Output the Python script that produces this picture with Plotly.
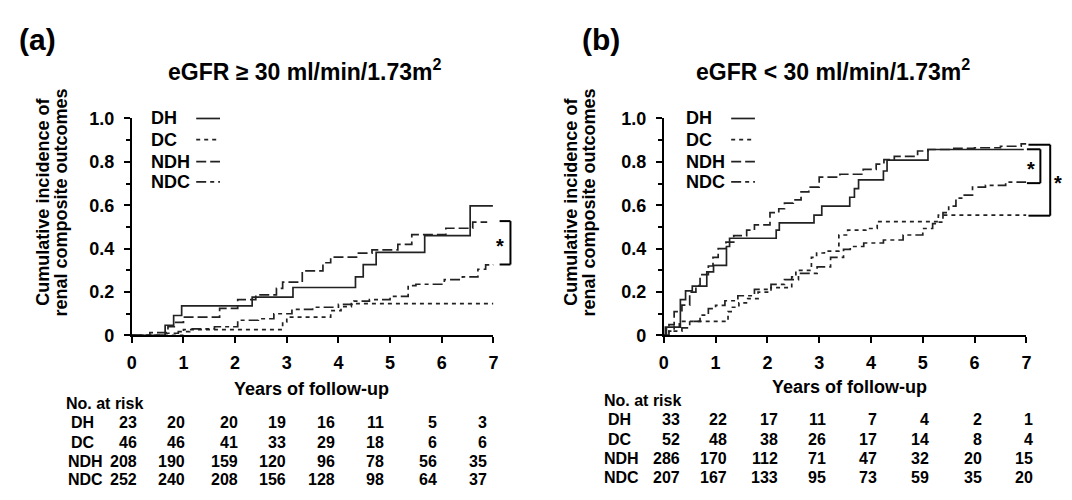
import plotly.graph_objects as go

# ---------------- data ----------------
years = [0, 1, 2, 3, 4, 5, 6, 7]
groups = ["DH", "DC", "NDH", "NDC"]

# Panel (a): eGFR >= 30
a_DH_t = [0, 0.645, 0.81, 0.965, 2.33, 3.12, 4.33, 4.48, 4.73, 5.67, 6.55, 6.99]
a_DH_v = [0, 0.047, 0.092, 0.136, 0.177, 0.221, 0.27, 0.326, 0.383, 0.46, 0.597, 0.597]
a_DC_t = [0, 1.0, 2.92, 3.0, 3.85, 4.05, 4.25, 7.0]
a_DC_v = [0, 0.027, 0.062, 0.084, 0.114, 0.133, 0.147, 0.147]
a_NDH_t = [0, 0.35, 0.7, 0.85, 1.0, 1.7, 2.05, 2.4, 2.8, 2.92, 3.3, 3.7, 3.85, 4.35, 4.65, 5.15, 5.42, 6.08, 6.6, 6.88]
a_NDH_v = [0, 0.013, 0.04, 0.06, 0.084, 0.125, 0.165, 0.187, 0.217, 0.246, 0.298, 0.335, 0.361, 0.379, 0.394, 0.42, 0.465, 0.494, 0.522, 0.522]
a_NDC_t = [0, 0.6, 0.9, 1.12, 1.6, 2.05, 2.45, 2.75, 3.1, 3.5, 4.0, 4.3, 4.6, 5.0, 5.35, 5.5, 6.05, 6.4, 6.7, 6.85, 7.0]
a_NDC_v = [0, 0.01, 0.018, 0.03, 0.04, 0.07, 0.077, 0.1, 0.12, 0.13, 0.143, 0.158, 0.165, 0.18, 0.23, 0.236, 0.257, 0.27, 0.305, 0.325, 0.327]

# Panel (b): eGFR < 30
b_DH_t = [0, 0.03, 0.32, 0.42, 0.55, 0.83, 0.96, 1.21, 1.27, 2.17, 2.23, 2.9, 3.05, 3.59, 3.68, 3.76, 4.24, 4.31, 5.1, 6.95]
b_DH_v = [0, 0.038, 0.165, 0.205, 0.227, 0.293, 0.323, 0.41, 0.448, 0.485, 0.519, 0.555, 0.596, 0.637, 0.677, 0.717, 0.758, 0.808, 0.857, 0.857]
b_DC_t = [0, 0.1, 0.2, 0.3, 1.24, 1.3, 1.45, 1.62, 1.82, 2.07, 2.47, 2.55, 2.85, 2.95, 3.1, 3.38, 3.55, 3.9, 4.12, 5.3, 7.0]
b_DC_v = [0, 0.02, 0.043, 0.065, 0.11, 0.13, 0.15, 0.17, 0.2, 0.22, 0.27, 0.3, 0.36, 0.38, 0.389, 0.463, 0.485, 0.493, 0.525, 0.555, 0.555]
b_NDH_t = [0, 0.05, 0.1, 0.2, 0.35, 0.5, 0.62, 0.7, 0.86, 0.95, 1.05, 1.2, 1.35, 1.6, 1.75, 2.05, 2.22, 2.33, 2.5, 2.65, 2.8, 3.0, 3.4, 3.85, 4.1, 4.25, 4.45, 4.9, 5.1, 5.6, 6.0, 6.5, 6.9, 7.0]
b_NDH_v = [0, 0.03, 0.05, 0.11, 0.14, 0.2, 0.23, 0.28, 0.32, 0.36, 0.4, 0.43, 0.46, 0.485, 0.51, 0.566, 0.584, 0.61, 0.625, 0.662, 0.684, 0.73, 0.743, 0.765, 0.79, 0.81, 0.825, 0.85, 0.857, 0.862, 0.865, 0.872, 0.883, 0.883]
b_NDC_t = [0, 0.1, 0.35, 0.5, 0.7, 0.86, 1.0, 1.18, 1.43, 1.75, 2.07, 2.33, 2.6, 2.96, 3.22, 3.47, 3.6, 3.86, 4.24, 4.62, 5.0, 5.19, 5.3, 5.39, 5.5, 5.64, 5.75, 5.96, 6.21, 6.6, 7.0]
b_NDC_v = [0, 0.02, 0.035, 0.065, 0.094, 0.124, 0.139, 0.16, 0.183, 0.212, 0.235, 0.257, 0.286, 0.316, 0.36, 0.397, 0.41, 0.426, 0.44, 0.463, 0.493, 0.515, 0.522, 0.566, 0.596, 0.633, 0.647, 0.684, 0.692, 0.707, 0.707]

# Numbers at risk
a_risk_DH = [23, 20, 20, 19, 16, 11, 5, 3]
a_risk_DC = [46, 46, 41, 33, 29, 18, 6, 6]
a_risk_NDH = [208, 190, 159, 120, 96, 78, 56, 35]
a_risk_NDC = [252, 240, 208, 156, 128, 98, 64, 37]
b_risk_DH = [33, 22, 17, 11, 7, 4, 2, 1]
b_risk_DC = [52, 48, 38, 26, 17, 14, 8, 4]
b_risk_NDH = [286, 170, 112, 71, 47, 32, 20, 15]
b_risk_NDC = [207, 167, 133, 95, 73, 59, 35, 20]

# significance brackets: (upper value, lower value)
a_brackets = [(0.527, 0.327)]
b_brackets = [(0.858, 0.702), (0.879, 0.552)]

y_tick_vals = [0, 0.2, 0.4, 0.6, 0.8, 1.0]
y_tick_text = ["0", "0.2", "0.4", "0.6", "0.8", "1.0"]

titles = ["eGFR ≥ 30 ml/min/1.73m<sup>2</sup>", "eGFR < 30 ml/min/1.73m<sup>2</sup>"]
panel_tags = ["(a)", "(b)"]

# ---------------- layout geometry ----------------
W, H = 1072, 500
FONT = "Liberation Sans, Arial, sans-serif"
INK = "#000000"
CURVE = "#222222"

px_x = [(128, 493), (665, 1031)]   # plot-area pixel extents
px_y = (113, 339)                  # top, bottom


def px2paper(x, y):
    return x / W, 1 - y / H


dom_x = [(a / W, b / W) for a, b in px_x]
dom_y = (1 - px_y[1] / H, 1 - px_y[0] / H)


def data2px(p, yr, val):
    x0, x1 = px_x[p]
    return x0 + yr / 7 * (x1 - x0), px_y[1] - val * (px_y[1] - px_y[0])


dashes = {"DH": "solid", "DC": "4px,4px", "NDH": "10px,4px", "NDC": "10px,4px,4px,4px"}

fig = go.Figure()

curves = [
    {"DH": (a_DH_t, a_DH_v), "DC": (a_DC_t, a_DC_v), "NDH": (a_NDH_t, a_NDH_v), "NDC": (a_NDC_t, a_NDC_v)},
    {"DH": (b_DH_t, b_DH_v), "DC": (b_DC_t, b_DC_v), "NDH": (b_NDH_t, b_NDH_v), "NDC": (b_NDC_t, b_NDC_v)},
]
for p in range(2):
    xa = "x" if p == 0 else "x2"
    ya = "y" if p == 0 else "y2"
    for g in groups:
        t, v = curves[p][g]
        fig.add_trace(go.Scatter(
            x=t, y=v, mode="lines", name=g, showlegend=False,
            line=dict(shape="hv", dash=dashes[g], width=1.7, color=CURVE),
            xaxis=xa, yaxis=ya, hoverinfo="skip"))

axis_common = dict(showline=True, linewidth=2, linecolor=INK, showgrid=False, zeroline=False,
                   ticks="outside", ticklen=6, tickwidth=2, tickcolor=INK,
                   tickfont=dict(family=FONT, size=18, color=INK, weight="bold"))

for p in range(2):
    sfx = "" if p == 0 else "2"
    fig.layout["xaxis" + sfx] = dict(axis_common, domain=list(dom_x[p]), range=[0, 7],
                                     tickvals=years, ticktext=[str(y) for y in years],
                                     anchor="y" + sfx, ticklabelstandoff=4)
    fig.layout["yaxis" + sfx] = dict(axis_common, domain=list(dom_y), range=[0, 1.0],
                                     tickvals=y_tick_vals, ticktext=y_tick_text,
                                     anchor="x" + sfx, ticklabelstandoff=6,
                                     minor=dict(tickvals=[0.1, 0.3, 0.5, 0.7, 0.9], ticks="outside",
                                                ticklen=4, tickwidth=2, tickcolor=INK))

ann = []
shapes = []


def text(x, y, s, size, xanchor="center", yanchor="middle", angle=0):
    px, py = px2paper(x, y)
    ann.append(dict(x=px, y=py, xref="paper", yref="paper", text=s, showarrow=False,
                    xanchor=xanchor, yanchor=yanchor, textangle=angle,
                    font=dict(family=FONT, size=size, color=INK, weight="bold")))


def line(x0, y0, x1, y1, dash="solid", width=2, color=INK):
    a0, b0 = px2paper(x0, y0)
    a1, b1 = px2paper(x1, y1)
    shapes.append(dict(type="line", xref="paper", yref="paper", x0=a0, y0=b0, x1=a1, y1=b1,
                       line=dict(color=color, width=width, dash=dash)))


# panel tags and titles
tag_pos = [(33, 31), (602, 31)]
title_pos = [(302, 63), (836, 63)]
for p in range(2):
    text(*tag_pos[p], panel_tags[p], 30)
    text(*title_pos[p], titles[p], 23)

# y-axis titles
ytitle_x = [(38, 57), (571, 590)]
for p in range(2):
    text(ytitle_x[p][0], 200, "Cumulative incidence of", 18, angle=-90)
    text(ytitle_x[p][1], 200, "renal composite outcomes", 18, angle=-90)

# x-axis titles
xtitle_pos = [(309, 395), (852, 393)]
for p in range(2):
    text(*xtitle_pos[p], "Years of follow-up", 18)

# legends
leg_text_x = [145, 685]
leg_line_x = [(193, 217), (733, 757)]
leg_rows = [113, 135, 158, 179]
for p in range(2):
    for g, yy in zip(groups, leg_rows):
        text(leg_text_x[p], yy, g, 18, xanchor="left")
        line(leg_line_x[p][0], yy, leg_line_x[p][1], yy, dash=dashes[g], width=1.7, color=CURVE)

# risk tables
risk = [
    {"DH": a_risk_DH, "DC": a_risk_DC, "NDH": a_risk_NDH, "NDC": a_risk_NDC},
    {"DH": b_risk_DH, "DC": b_risk_DC, "NDH": b_risk_NDH, "NDC": b_risk_NDC},
]
head_pos = [(60, 410), (603, 407)]
row_y = [[430, 450, 470, 489], [427, 447, 467, 487]]
label_x = [{"DH": 65, "DC": 65, "NDH": 62, "NDC": 62}, {"DH": 607, "DC": 607, "NDH": 603, "NDC": 603}]
col_right = [[135, 184, 237, 286, 335, 385, 438, 489], [683, 731, 782, 831, 882, 935, 988, 1040]]
for p in range(2):
    text(*head_pos[p], "No. at risk", 16, xanchor="left")
    for g, yy in zip(groups, row_y[p]):
        text(label_x[p][g], yy, g, 16, xanchor="left")
        for cx, n in zip(col_right[p], risk[p][g]):
            text(cx, yy, str(n), 16, xanchor="right")

# significance brackets
br_geo = [[(7.12, 7.33, 7.13)], [(7.01, 7.27, 7.09), (7.04, 7.46, 7.62)]]
for p, brs in enumerate([a_brackets, b_brackets]):
    for (hi, lo), (xs, xv, xstar) in zip(brs, br_geo[p]):
        xs_px, yhi = data2px(p, xs, hi)
        xv_px, ylo = data2px(p, xv, lo)
        line(xs_px, yhi, xv_px, yhi)
        line(xv_px, yhi, xv_px, ylo)
        line(xs_px, ylo, xv_px, ylo)
        sx, sy = data2px(p, xstar, (hi + lo) / 2)
        text(sx, sy + 3, "*", 20)

fig.update_layout(width=W, height=H, margin=dict(l=0, r=0, t=0, b=0),
                  paper_bgcolor="white", plot_bgcolor="white",
                  annotations=ann, shapes=shapes, showlegend=False)

fig.write_html("out.html", config={"displayModeBar": False},
               post_script="document.body.style.margin='0';document.body.style.padding='0';"
                           "document.body.style.overflow='hidden';")
